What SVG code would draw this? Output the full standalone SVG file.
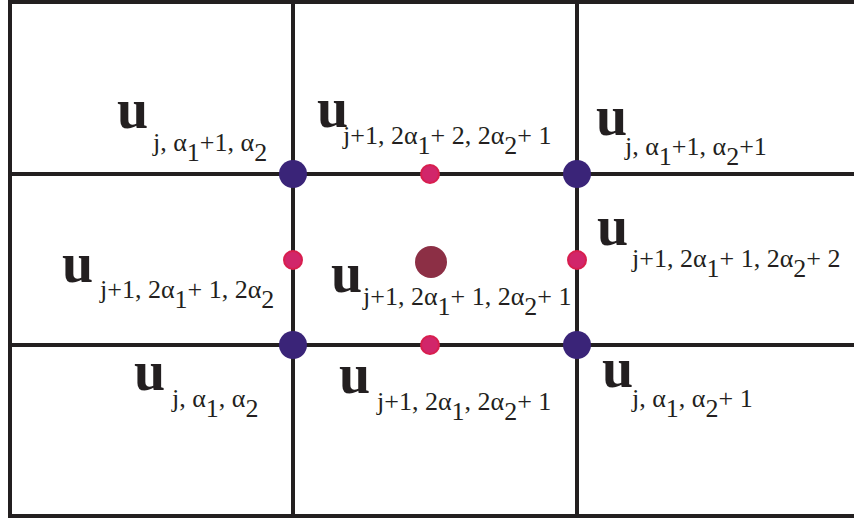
<svg xmlns="http://www.w3.org/2000/svg" width="854" height="522" viewBox="0 0 854 522">
<style>
.ln{stroke:#231f20;stroke-width:4;fill:none}
.u{font-family:"Liberation Serif","Times New Roman",serif;font-size:56px;font-weight:bold;fill:#231f20}
.s{font-family:"Liberation Serif","Times New Roman",serif;font-size:26px;fill:#231f20}
.big{fill:#3a2478}
.mid{fill:#d1266a;stroke:#d81e4e;stroke-width:2}
.ctr{fill:#8c2f45}
</style>
<rect width="854" height="522" fill="#ffffff"/>
<g id="connectors">
<path class="ln" d="M10,2 H854 M10,0 V518 M8,516 H854"/>
<path class="ln" d="M293,0 V516 M577,0 V516"/>
<path class="ln" d="M10,174 H854 M10,345 H854"/>
</g>
<g id="n_top_left">
<circle class="big" cx="293" cy="174" r="14"/>
<text class="u" x="117" y="128">u</text>
<text class="s" x="153" y="151">j, α<tspan dy="10">1</tspan><tspan dy="-10">+1, α</tspan><tspan dy="10">2</tspan></text>
</g>
<g id="n_top_mid">
<circle class="mid" cx="430" cy="174" r="9"/>
<text class="u" x="317" y="127">u</text>
<text class="s" x="343" y="144">j+1, 2α<tspan dy="10">1</tspan><tspan dy="-10">+ 2, 2α</tspan><tspan dy="10">2</tspan><tspan dy="-10">+ 1</tspan></text>
</g>
<g id="n_top_right">
<circle class="big" cx="577" cy="174" r="14"/>
<text class="u" x="596" y="135">u</text>
<text class="s" x="625" y="155">j, α<tspan dy="10">1</tspan><tspan dy="-10">+1, α</tspan><tspan dy="10">2</tspan><tspan dy="-10">+1</tspan></text>
</g>
<g id="n_mid_left">
<circle class="mid" cx="293" cy="260" r="9"/>
<text class="u" x="62" y="282">u</text>
<text class="s" x="100" y="298">j+1, 2α<tspan dy="10">1</tspan><tspan dy="-10">+ 1, 2α</tspan><tspan dy="10">2</tspan></text>
</g>
<g id="n_center">
<circle class="ctr" cx="431" cy="262" r="16"/>
<text class="u" x="331" y="292">u</text>
<text class="s" x="363" y="305">j+1, 2α<tspan dy="10">1</tspan><tspan dy="-10">+ 1, 2α</tspan><tspan dy="10">2</tspan><tspan dy="-10">+ 1</tspan></text>
</g>
<g id="n_mid_right">
<circle class="mid" cx="577" cy="260" r="9"/>
<text class="u" x="597" y="245">u</text>
<text class="s" x="632" y="267">j+1, 2α<tspan dy="10">1</tspan><tspan dy="-10">+ 1, 2α</tspan><tspan dy="10">2</tspan><tspan dy="-10">+ 2</tspan></text>
</g>
<g id="n_bot_left">
<circle class="big" cx="293" cy="345" r="14"/>
<text class="u" x="134" y="390">u</text>
<text class="s" x="172" y="407">j, α<tspan dy="10">1</tspan><tspan dy="-10">, α</tspan><tspan dy="10">2</tspan></text>
</g>
<g id="n_bot_mid">
<circle class="mid" cx="430" cy="345" r="9"/>
<text class="u" x="339" y="393">u</text>
<text class="s" x="377" y="410">j+1, 2α<tspan dy="10">1</tspan><tspan dy="-10">, 2α</tspan><tspan dy="10">2</tspan><tspan dy="-10">+ 1</tspan></text>
</g>
<g id="n_bot_right">
<circle class="big" cx="577" cy="345" r="14"/>
<text class="u" x="602" y="387">u</text>
<text class="s" x="632" y="407">j, α<tspan dy="10">1</tspan><tspan dy="-10">, α</tspan><tspan dy="10">2</tspan><tspan dy="-10">+ 1</tspan></text>
</g>
</svg>
